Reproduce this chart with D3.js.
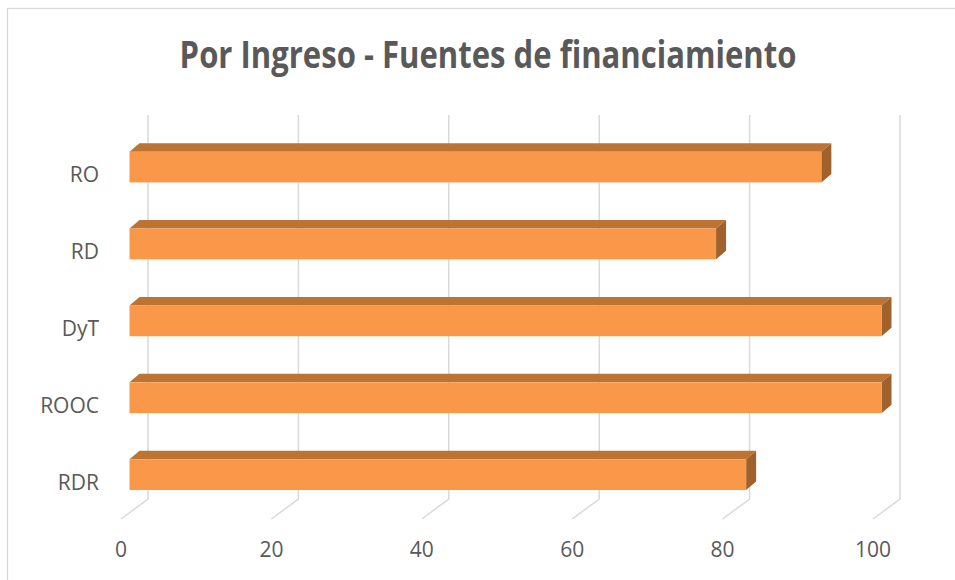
<html>
    <head>
        <script src="https://d3js.org/d3.v7.min.js"></script>
        <style>
            body { margin: 0; background: #fff; }
            text { font-family: "Open Sans", "Noto Sans", sans-serif; fill: #595959; }
        </style>
    </head>
    <body>
        <svg id="chart" width=955 height=580></svg>
        <script>
            const categories = ['RO', 'RD', 'DyT', 'ROOC', 'RDR'];
            const values = [92, 78, 100, 100, 82];
            const ticks = [0, 20, 40, 60, 80, 100];
            const title = 'Por Ingreso - Fuentes de financiamiento';

            const svg = d3.select('svg#chart');

            // chart border (runs off the right and bottom edge)
            svg.append('rect')
                .attr('x', 7.5).attr('y', 8.5)
                .attr('width', 960).attr('height', 590)
                .attr('fill', 'none')
                .attr('stroke', '#d9d9d9')
                .attr('stroke-width', 1.3);

            // value scale in the plane of the bar fronts
            const xScale = d3.scaleLinear().domain([0, 100]).range([129.5, 881.5]);
            const yScale = d3.scaleBand().domain(categories)
                .range([128.6, 513.1]).paddingInner(0.6).paddingOuter(0.3);

            // depth offsets
            const back = {dx: 18.5, dy: -13.7};   // bar front -> back wall
            const front = {dx: -8.5, dy: 6.3};     // bar front -> floor front edge
            const barDepth = {dx: 10, dy: -8.5};
            const wallTop = 115, wallBottom = 499;

            // gridlines: back wall verticals + floor diagonals
            const grid = svg.append('g').attr('class', 'gridlines')
                .attr('stroke', '#d9d9d9').attr('stroke-width', 1.5).attr('fill', 'none');
            ticks.forEach(t => {
                const xb = xScale(t) + back.dx;
                const xf = xScale(t) + front.dx;
                grid.append('path')
                    .attr('d', `M${xb},${wallTop}L${xb},${wallBottom}L${xf},${wallBottom + 20}`);
            });

            // tick labels
            svg.append('g').selectAll('text')
                .data(ticks).join('text')
                .attr('x', d => xScale(d) + front.dx)
                .attr('y', 556.5)
                .attr('text-anchor', 'middle')
                .attr('font-size', 21)
                .text(d => d);

            // category labels
            svg.append('g').selectAll('text')
                .data(categories).join('text')
                .attr('x', 99)
                .attr('y', d => yScale(d) + yScale.bandwidth())
                .attr('text-anchor', 'end')
                .attr('font-size', 21)
                .text(d => d);

            // 3D bars
            const bars = svg.append('g');
            categories.forEach((c, i) => {
                const x0 = xScale(0), x1 = xScale(values[i]);
                const y0 = yScale(c), h = yScale.bandwidth();
                const {dx, dy} = barDepth;
                // top face
                bars.append('path')
                    .attr('d', `M${x0},${y0}L${x0 + dx},${y0 + dy}L${x1 + dx},${y0 + dy}L${x1},${y0}Z`)
                    .attr('fill', '#bd7332');
                // side face
                bars.append('path')
                    .attr('d', `M${x1},${y0}L${x1 + dx},${y0 + dy}L${x1 + dx},${y0 + h + dy}L${x1},${y0 + h}Z`)
                    .attr('fill', '#a0622d');
                // front face
                bars.append('rect')
                    .attr('x', x0).attr('y', y0)
                    .attr('width', x1 - x0).attr('height', h)
                    .attr('fill', '#f89848');
            });

            // title: fit to the original width, then stretch to its taller cap height
            const t = svg.append('text')
                .attr('text-anchor', 'middle')
                .attr('font-weight', 'bold')
                .attr('font-size', 30)
                .text(title);
            const w = t.node().getComputedTextLength();
            const fs = 30 * 617 / w;
            const k = 27 / (0.714 * fs);
            t.attr('font-size', fs)
                .attr('transform', `translate(488,67.5) scale(1,${k})`);
        </script>
    </body>
</html>
